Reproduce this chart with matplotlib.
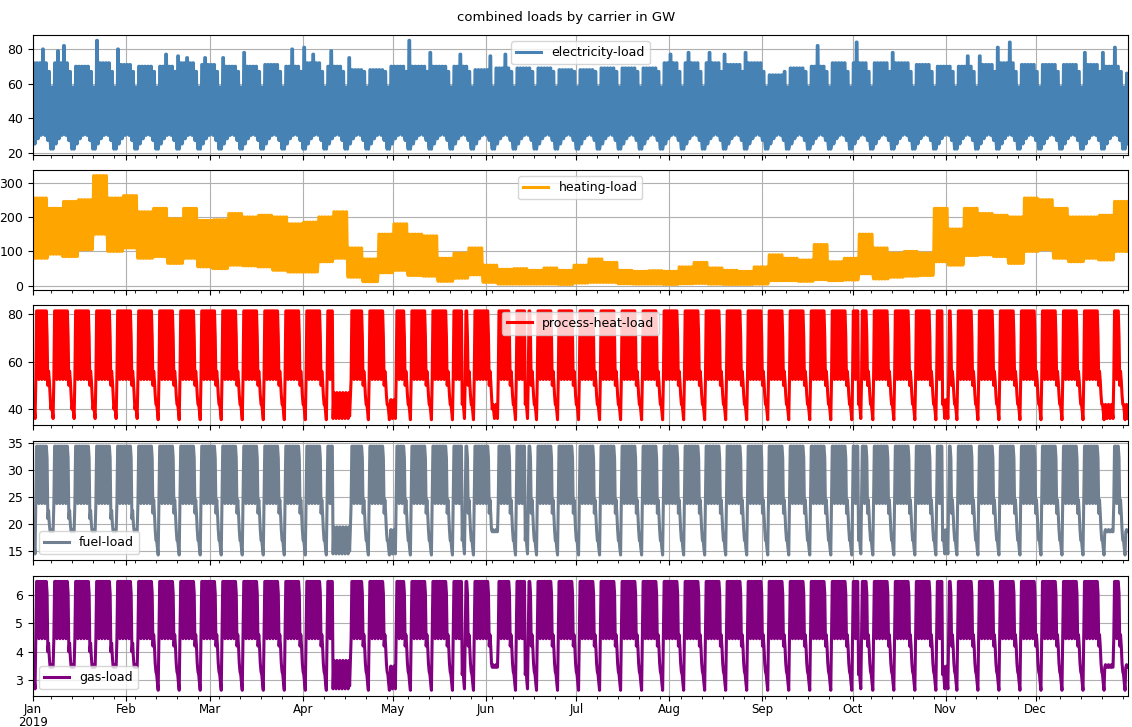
import numpy as np
import pandas as pd
import matplotlib
matplotlib.use("Agg")
import matplotlib.pyplot as plt
import matplotlib.dates as mdates
from matplotlib.ticker import MaxNLocator, FuncFormatter

# ------------------------------------------------------------
# data, 6-hourly points 00/06/12/18h
# ------------------------------------------------------------
times = pd.date_range("2019-01-01", periods=365 * 4, freq="6h")

# day type of the industrial profile, one char per day (weeks start on day 0)
# W workday, F friday, A saturday, U sunday, a/u shallow weekend,
# H holiday, E easter holidays
day_codes = (
    "HWWWFau" "WWWWFau" "WWWWFau" "WWWWFau" "WWWWFau"
    "WWWWFAU" "WWWWFAU" "WWWWFAU" "WWWWFAU" "WWWWFAU"
    "WWWWFAU" "WWWWFAU" "WWWWFAU" "WWWWFAU" "WWEEEEE"
    "EWWWFAU" "WWWWFAU" "HHWWFAU" "WWWWFAU" "WWWWFAU"
    "WWWHFAU" "WWWWFAu" "uWWWFAU" "WWWHFAU" "WWWWFAU"
    "WWWWFAU" "WWWWFAU" "WWWWFAU" "WWWWFAU" "WWWWFAU"
    "WWWWFAU" "WWWWFAU" "WWWWFAU" "WWWWFAU" "WWWWFAU"
    "WWWWFAU" "WWWWFAU" "WWWWFAU" "WWWWFAU" "WWHWFAU"
    "WWWWFAU" "WWWWFAU" "WWWWFAU" "WWHHFAU" "WWWWFAU"
    "WWWWFAU" "WWWWFAU" "WWWWFAU" "WWWWFAU" "WWWWFAU"
    "WWWWFAU" "uuuWFAU" "u"
)

process_profile = {
    "W": [52.5, 81.5, 81.5, 81.5],
    "F": [52.5, 81.5, 81.5, 70.5],
    "A": [50, 56, 52, 46],
    "U": [42, 42, 39, 35.5],
    "a": [50, 56, 52, 46],
    "u": [40, 42, 39, 36],
    "H": [42, 44, 40, 36],
    "E": [36, 47, 37, 45],
}
fuel_profile = {
    "W": [23.8, 34.4, 34.4, 34.4],
    "F": [23.8, 34.4, 34.4, 32.2],
    "A": [22, 24.5, 22, 19],
    "U": [17, 17, 15.5, 14.3],
    "a": [21, 22.5, 20, 18.6],
    "u": [18.6, 19, 18.6, 18.6],
    "H": [17, 19, 16, 14.5],
    "E": [14.5, 19.5, 15, 19],
}
gas_profile = {
    "W": [4.46, 6.47, 6.47, 6.47],
    "F": [4.46, 6.47, 6.47, 6.05],
    "A": [4.2, 4.6, 4.2, 3.6],
    "U": [3.3, 3.2, 2.9, 2.65],
    "a": [4.0, 4.3, 3.8, 3.46],
    "u": [3.46, 3.55, 3.46, 3.46],
    "H": [3.2, 3.5, 3.0, 2.7],
    "E": [2.7, 3.7, 2.8, 3.6],
}

# electricity: night lows per weekday (Mon..Sun), weekday peak per week
elec_low_dow = [25, 28, 30, 31, 30, 27, 22]
elec_weekend_peak = {5: 67, 6: 58}
elec_peak = [72, 72, 70, 72, 71, 70, 70, 72, 71, 70,
             70, 71, 70, 72, 70, 68, 68, 70, 70, 70,
             70, 68, 69, 69, 69, 68, 68, 69, 69, 69,
             72, 72, 72, 71, 72, 65, 69, 70, 72, 72,
             72, 72, 71, 70, 70, 71, 72, 71, 71, 71,
             71, 70, 66]
elec_spikes = {3: 80, 8: 79, 10: 82, 21: 85, 28: 80, 44: 77, 48: 76, 51: 75,
               57: 75, 63: 75, 70: 78, 86: 80, 90: 81, 93: 77, 99: 79, 105: 75,
               125: 85, 132: 78, 142: 77, 152: 76, 157: 77, 212: 77, 218: 78,
               225: 78, 230: 77, 237: 78, 261: 82, 274: 84, 286: 78, 311: 76,
               315: 76, 321: 81, 325: 84, 350: 78, 356: 78, 360: 81}

# heating: daily low / high per 5-day block
heat_hi = [255, 225, 245, 250, 320, 255, 262, 215, 225, 195,
           225, 190, 192, 210, 200, 205, 200, 180, 185, 200,
           215, 110, 78, 150, 180, 150, 145, 80, 95, 110,
           60, 48, 50, 45, 52, 45, 60, 78, 68, 45,
           42, 44, 42, 55, 68, 52, 45, 42, 55, 90,
           80, 75, 120, 70, 80, 150, 110, 95, 100, 95,
           225, 165, 225, 210, 205, 200, 255, 250, 225, 200,
           200, 205, 245]
heat_lo = [80, 92, 85, 105, 150, 100, 110, 80, 85, 65,
           80, 55, 50, 60, 58, 55, 45, 40, 40, 70,
           80, 25, 12, 38, 45, 30, 28, 13, 22, 32,
           10, 5, 5, 5, 5, 4, 8, 10, 10, 6,
           5, 5, 4, 6, 7, 5, 4, 4, 5, 15,
           15, 13, 18, 15, 17, 35, 20, 25, 28, 30,
           70, 60, 88, 90, 85, 65, 100, 105, 80, 70,
           80, 75, 100]

# ------------------------------------------------------------
# series
# ------------------------------------------------------------
process = [v for c in day_codes for v in process_profile[c]]
fuel = [v for c in day_codes for v in fuel_profile[c]]
gas = [v for c in day_codes for v in gas_profile[c]]

elec = []
heat = []
for d in range(365):
    dow = d % 7
    lo = elec_low_dow[dow]
    hi = elec_weekend_peak.get(dow, elec_peak[d // 7])
    hi = elec_spikes.get(d, hi)
    elec += [lo, hi, hi, lo]
    hl, hh = heat_lo[d // 5], heat_hi[d // 5]
    heat += [hl, hh, hh, hl]

series = [
    ("electricity-load", elec, "steelblue", "upper center"),
    ("heating-load", heat, "orange", "upper center"),
    ("process-heat-load", process, "red", "upper center"),
    ("fuel-load", fuel, "slategray", "lower left"),
    ("gas-load", gas, "purple", "lower left"),
]

# ------------------------------------------------------------
# plot
# ------------------------------------------------------------
plt.rcParams.update({"font.family": "DejaVu Sans", "font.size": 9})

fig = plt.figure(figsize=(11.32, 7.27), dpi=100)
axes = fig.subplots(5, 1, sharex=True)
fig.subplots_adjust(left=0.029, right=0.9965, top=0.952, bottom=0.043, hspace=0.13)
fig.suptitle("combined loads by carrier in GW", fontsize=9.5, y=0.985)


def month_fmt(x, pos=None):
    d = mdates.num2date(x)
    return d.strftime("%b\n%Y") if d.month == 1 else d.strftime("%b")


for ax, (name, vals, col, loc) in zip(axes, series):
    ax.plot(times, vals, color=col, lw=2.2, label=name)
    ax.legend(loc=loc)
    ax.grid(True)
    ax.yaxis.set_major_locator(MaxNLocator(nbins=5, steps=[1, 2, 2.5, 5, 10]))

ax = axes[-1]
ax.set_xlim(times[0], times[-1])
ax.xaxis.set_major_locator(mdates.MonthLocator())
ax.xaxis.set_major_formatter(FuncFormatter(month_fmt))
ax.xaxis.set_minor_locator(mdates.WeekdayLocator(byweekday=mdates.MO))
ax.tick_params(axis="x", which="major", pad=2)
for lab in ax.get_xticklabels():
    lab.set_linespacing(0.95)
    lab.set_fontsize(8.5)

fig.savefig("out.png", dpi=100)
